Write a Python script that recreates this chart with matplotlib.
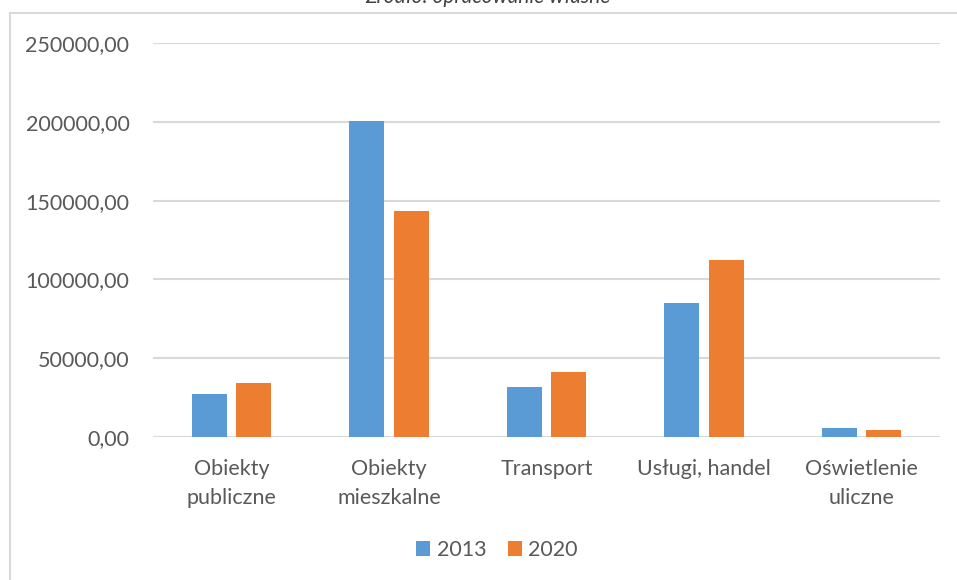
import numpy as np
import matplotlib
matplotlib.use('Agg')
from matplotlib import pyplot as plt
from matplotlib.patches import Rectangle
from matplotlib.ticker import FuncFormatter

categories = ['Obiekty\npubliczne', 'Obiekty\nmieszkalne', 'Transport', 'Usługi, handel', 'Oświetlenie\nuliczne']
years = ['2013', '2020']
values_2013 = [27300, 200700, 31900, 85200, 5900]
values_2020 = [34100, 143200, 41400, 112300, 4300]
yticks = [0, 50000, 100000, 150000, 200000, 250000]

plt.rcParams['font.family'] = ['Lato', 'DejaVu Sans']
text_color = '#595959'
grid_color = '#D9D9D9'
fs = 15.5

W, H = 957, 580
fig = plt.figure(figsize=(W / 100, H / 100), dpi=100)

# chart area border (runs off the right and bottom edge)
fig.patches.append(Rectangle((10 / W, -0.1), 1.1, 1 - 13 / H + 0.1, transform=fig.transFigure,
                             fill=False, edgecolor=grid_color, linewidth=1.5))
fig.text(488 / W, 1 - 3 / H, 'Źródło: opracowanie własne', ha='center', va='baseline',
         style='italic', fontsize=15, color='#404040')

ax = fig.add_axes([153 / W, 1 - 437 / H, (940 - 153) / W, (437 - 43) / H])

x = np.arange(len(categories))
w = 0.222
gap = 0.06
ax.bar(x - (w + gap) / 2, values_2013, w, color='#5B9BD5', label=years[0], zorder=3)
ax.bar(x + (w + gap) / 2, values_2020, w, color='#ED7D31', label=years[1], zorder=3)

ax.set_xlim(-0.5, len(categories) - 0.5)
ax.set_ylim(0, 250000)
ax.set_yticks(yticks)
ax.yaxis.set_major_formatter(FuncFormatter(lambda v, p: f'{v:.2f}'.replace('.', ',')))
ax.grid(axis='y', color=grid_color, linewidth=1.5, zorder=0)
for s in ax.spines.values():
    s.set_visible(False)
ax.tick_params(axis='y', length=0, pad=17, labelsize=fs, labelcolor=text_color)
ax.set_xticks(x)
ax.set_xticklabels(categories, linespacing=1.55)
ax.tick_params(axis='x', length=0, pad=16, labelsize=fs, labelcolor=text_color)

ax.legend(loc='center', bbox_to_anchor=(497 / W, 1 - 550 / H), bbox_transform=fig.transFigure,
          ncol=2, frameon=False, fontsize=fs, labelcolor=text_color,
          handlelength=0.65, handleheight=0.65, handletextpad=0.3, columnspacing=1.0)

plt.savefig('out.png', dpi=100)
